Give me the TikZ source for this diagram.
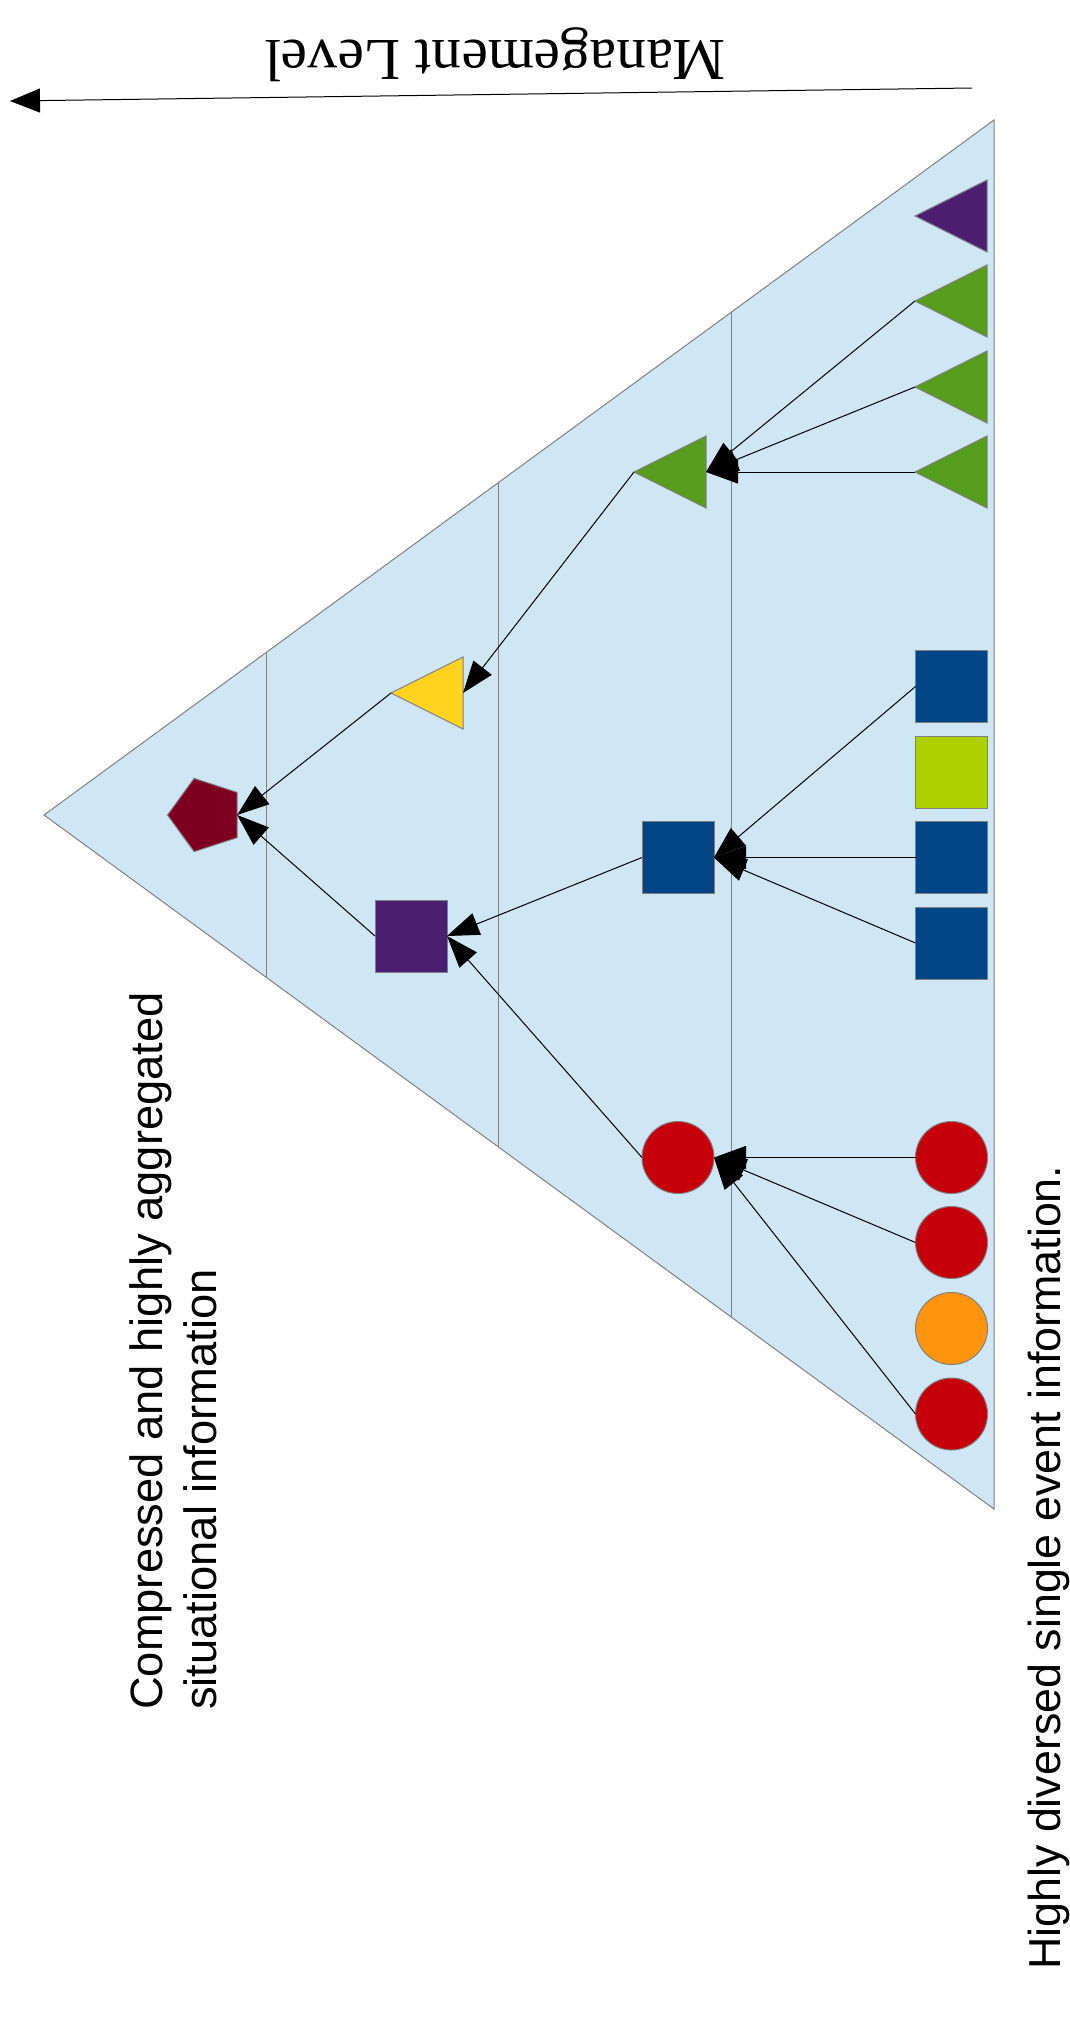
\documentclass[tikz,border=0pt]{standalone}
\usepackage{fontspec}
\setmainfont{Liberation Serif}
\newfontfamily\lsans{Liberation Sans}
\usetikzlibrary{shapes.geometric,arrows.meta,calc}
\definecolor{bgblue}{HTML}{CFE7F5}
\definecolor{linegray}{HTML}{808080}
\definecolor{cpurple}{HTML}{4B1F6F}
\definecolor{cgreen}{HTML}{579D1C}
\definecolor{cyellow}{HTML}{FFD320}
\definecolor{cdarkred}{HTML}{7E0021}
\definecolor{cblue}{HTML}{004586}
\definecolor{cygreen}{HTML}{AECF00}
\definecolor{cred}{HTML}{C5000B}
\definecolor{corange}{HTML}{FF950E}
\tikzset{
  shp/.style={draw=linegray, line width=1pt, inner sep=0pt, outer sep=0pt},
  tri/.style={shp, isosceles triangle, isosceles triangle stretches, shape border rotate=180,
    minimum width=72pt, minimum height=72pt, anchor=apex},
  sq/.style={shp, rectangle, minimum width=72pt, minimum height=72pt},
  circ/.style={shp, circle, minimum size=72pt},
  conn/.style={draw=black, line width=1pt, -{Triangle[length=32pt,width=23pt]}},
  divider/.style={draw=linegray, line width=1pt},
}
\begin{document}
\begin{tikzpicture}[x=1pt,y=-1pt]
\useasboundingbox (0,0) rectangle (1069,2026);
\fill[white] (0,0) rectangle (1069,2026);

% pyramid
\coordinate (apx) at (44,815);
\coordinate (ttop) at (994,120);
\coordinate (tbot) at (994,1509);
\path[fill=bgblue, draw=linegray, line width=1pt] (apx) -- (ttop) -- (tbot) -- cycle;
\draw[divider] ($(apx)!0.2337!(ttop)$) -- ($(apx)!0.2337!(tbot)$);
\draw[divider] ($(apx)!0.4789!(ttop)$) -- ($(apx)!0.4789!(tbot)$);
\draw[divider] ($(apx)!0.7242!(ttop)$) -- ($(apx)!0.7242!(tbot)$);

% management level arrow
\coordinate (mls) at (972,88);
\coordinate (mle) at (10,101);
\draw[line width=1pt, -{Triangle[length=30pt,width=24pt]}] (mls) -- (mle);
\node[rotate=180, anchor=base, inner sep=0pt, font=\fontsize{59.5pt}{70pt}\selectfont] (ml) at (495.5,41) {Management Level};

% right column: triangles
\node[tri, fill=cpurple] (t0) at (915,216) {};
\node[tri, fill=cgreen] (t1) at (915,301) {};
\node[tri, fill=cgreen] (t2) at (915,387) {};
\node[tri, fill=cgreen] (t3) at (915,472) {};
% right column: squares
\node[sq, fill=cblue] (s1) at (951.5,686.5) {};
\node[sq, fill=cygreen] (s2) at (951.5,772) {};
\node[sq, fill=cblue] (s3) at (951.5,857.5) {};
\node[sq, fill=cblue] (s4) at (951.5,943) {};
% right column: circles
\node[circ, fill=cred] (c1) at (951.5,1157.5) {};
\node[circ, fill=cred] (c2) at (951.5,1242.5) {};
\node[circ, fill=corange] (c3) at (951.5,1328.5) {};
\node[circ, fill=cred] (c4) at (951.5,1414) {};

% second level
\node[tri, fill=cgreen] (tm) at (634,472) {};
\node[sq, fill=cblue] (sm) at (678,857.5) {};
\node[circ, fill=cred] (cm) at (678,1157.5) {};

% third level
\node[tri, fill=cyellow] (ty) at (391,693) {};
\node[sq, fill=cpurple] (ps) at (411,936) {};

% top
\node[shp, regular polygon, regular polygon sides=5, shape border rotate=90,
      minimum size=77pt, fill=cdarkred] (pent) at (206,815) {};

% connectors
\draw[conn] (t1.apex) -- (tm.lower side);
\draw[conn] (t2.apex) -- (tm.lower side);
\draw[conn] (t3.apex) -- (tm.lower side);
\draw[conn] (s1.west) -- (sm.east);
\draw[conn] (s3.west) -- (sm.east);
\draw[conn] (s4.west) -- (sm.east);
\draw[conn] (c1.west) -- (cm.east);
\draw[conn] (c2.west) -- (cm.east);
\draw[conn] (c4.west) -- (cm.east);
\draw[conn] (tm.apex) -- (ty.lower side);
\draw[conn] (sm.west) -- (ps.east);
\draw[conn] (cm.west) -- (ps.east);
\draw[conn] (ty.apex) -- (pent.east);
\draw[conn] (ps.west) -- (pent.east);

% texts
\node[rotate=90, anchor=north west, inner sep=0pt, align=left,
      font=\lsans\fontsize{45.3pt}{54pt}\selectfont] (agg) at (129.5,1710)
      {Compressed and highly aggregated\\situational information};
\node[rotate=90, anchor=base west, inner sep=0pt,
      font=\lsans\fontsize{44.8pt}{54pt}\selectfont] (div) at (1060,1970)
      {Highly diversed single event information.};
\end{tikzpicture}
\end{document}
